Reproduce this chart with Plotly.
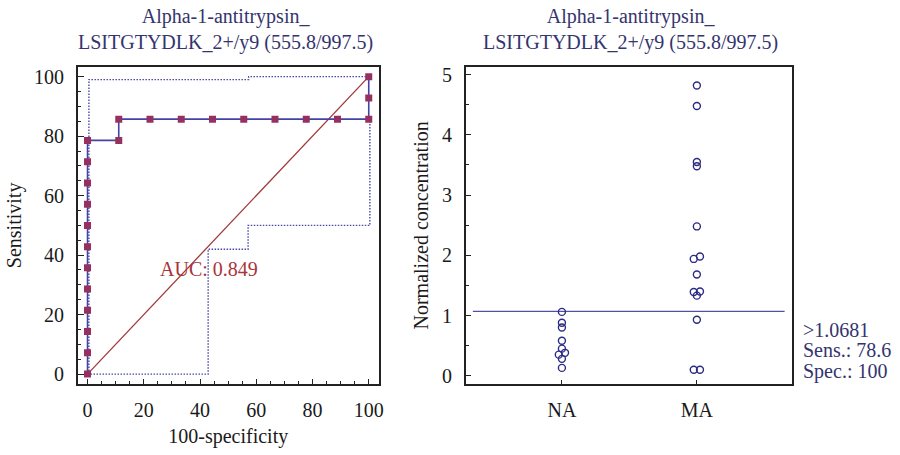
import plotly.graph_objects as go

# Normalized concentrations per group
na_values = [1.06, 0.88, 0.80, 0.58, 0.45, 0.38, 0.35, 0.28, 0.13]
ma_values = [4.82, 4.48, 3.55, 3.48, 2.48, 1.98, 1.94, 1.68, 1.40, 1.39, 1.33, 0.93, 0.10, 0.10]
group_labels = ["NA", "MA"]
cutoff = 1.0681
sens_at_cutoff = 78.6
spec_at_cutoff = 100
auc_value = 0.849

# Confidence band of the ROC curve (100-specificity, sensitivity)
upper_fpr = [0.5, 0.5, 57.3, 57.3, 100]
upper_tpr = [0, 99.0, 99.0, 100, 100]
lower_fpr = [0, 42.9, 42.9, 57.1, 57.1, 100.4, 100.4]
lower_tpr = [0, 0, 42.0, 42.0, 50.0, 50.0, 85.7]

title_text = "Alpha-1-antitrypsin_<br>LSITGTYDLK_2+/y9 (555.8/997.5)"


def staircase(neg, pos):
    """Step path through every sample: vertical for positives, horizontal for negatives."""
    samples = sorted([(v, 0) for v in neg] + [(v, 1) for v in pos], key=lambda s: (-s[0], -s[1]))
    x, y = [0.0], [0.0]
    fx, ty = 0.0, 0.0
    for v, is_pos in samples:
        if is_pos:
            ty += 100.0 / len(pos)
        else:
            fx += 100.0 / len(neg)
        x.append(fx)
        y.append(ty)
    return x, y


def spread(values, center, tol=0.05, step=0.046):
    """Spread near-equal values sideways so the circles do not overlap."""
    order = sorted(range(len(values)), key=lambda i: values[i])
    xs = [center] * len(values)
    groups, cur = [], [order[0]]
    for i in order[1:]:
        if values[i] - values[cur[-1]] <= tol:
            cur.append(i)
        else:
            groups.append(cur)
            cur = [i]
    groups.append(cur)
    for g in groups:
        n = len(g)
        for k, i in enumerate(g):
            xs[i] = center + (k - (n - 1) / 2) * step
    return xs


step_x, step_y = staircase(na_values, ma_values)

FONT = "Liberation Serif, Times New Roman, serif"
NAVY = "#34346e"
FS = 20

fig = go.Figure()

# ROC panel
band_line = dict(color="#4848a8", width=1.4, dash="1.5px,1.5px")
fig.add_trace(go.Scatter(x=upper_fpr, y=upper_tpr, mode="lines", line=band_line,
                         xaxis="x", yaxis="y", hoverinfo="skip"))
fig.add_trace(go.Scatter(x=lower_fpr, y=lower_tpr, mode="lines", line=band_line,
                         xaxis="x", yaxis="y", hoverinfo="skip"))
fig.add_trace(go.Scatter(x=[0, 100], y=[0, 100], mode="lines",
                         line=dict(color="#a23a3a", width=1.3),
                         xaxis="x", yaxis="y", hoverinfo="skip"))
fig.add_trace(go.Scatter(x=step_x, y=step_y, mode="lines+markers",
                         line=dict(color="#4343a6", width=1.6),
                         marker=dict(symbol="square", size=7, color="#96305f"),
                         xaxis="x", yaxis="y"))

# Dot plot panel
fig.add_trace(go.Scatter(x=[-0.66, 1.65], y=[cutoff, cutoff], mode="lines",
                         line=dict(color="#5050a8", width=1.4),
                         xaxis="x2", yaxis="y2", hoverinfo="skip"))
dot_marker = dict(symbol="circle-open", size=7, color="#2b2b85", line=dict(width=1.4))
fig.add_trace(go.Scatter(x=spread(na_values, 0), y=na_values, mode="markers",
                         marker=dot_marker, xaxis="x2", yaxis="y2"))
fig.add_trace(go.Scatter(x=spread(ma_values, 1), y=ma_values, mode="markers",
                         marker=dot_marker, xaxis="x2", yaxis="y2"))

W, H = 900, 455
axis_common = dict(showline=True, mirror=True, linecolor="#222", linewidth=1.6,
                   ticks="inside", tickcolor="#222", tickwidth=1.2,
                   showgrid=False, zeroline=False,
                   tickfont=dict(family=FONT, size=FS, color="#1a1a1a"))
title_font = dict(family=FONT, size=FS, color="#1a1a1a")

fig.update_layout(
    width=W, height=H, showlegend=False,
    margin=dict(l=0, r=0, t=0, b=0),
    paper_bgcolor="white", plot_bgcolor="white",
    font=dict(family=FONT, color="#1a1a1a"),
    xaxis=dict(domain=[78.3 / W, 380.7 / W], range=[-3.43, 103.5],
               tickvals=[0, 20, 40, 60, 80, 100], ticklen=5, ticklabelstandoff=7,
               minor=dict(ticks="inside", dtick=5, ticklen=3, tickcolor="#222"),
               title=dict(text="100-specificity", font=title_font, standoff=9),
               anchor="y", **axis_common),
    yaxis=dict(domain=[1 - 386 / H, 1 - 64.7 / H], range=[-3.3, 103.3],
               tickvals=[0, 20, 40, 60, 80, 100], ticklen=6, ticklabelstandoff=8,
               minor=dict(ticks="inside", dtick=5, ticklen=3, tickcolor="#222"),
               title=dict(text="Sensitivity", font=title_font, standoff=7),
               anchor="x", **axis_common),
    xaxis2=dict(domain=[468.3 / W, 796.7 / W], range=[-0.713, 1.707],
                tickvals=[0, 1], ticktext=group_labels, ticklen=4, ticklabelstandoff=7,
                anchor="y2", **axis_common),
    yaxis2=dict(domain=[1 - 386 / H, 1 - 64.7 / H], range=[-0.136, 5.13],
                tickvals=[0, 1, 2, 3, 4, 5], ticklen=6, ticklabelstandoff=8,
                minor=dict(ticks="inside", dtick=0.5, ticklen=4, tickcolor="#222"),
                title=dict(text="Normalized concentration", font=title_font, standoff=8),
                anchor="x2", **axis_common),
)

annotations = [
    dict(text=title_text, x=227 / W, y=1, xref="paper", yref="paper",
         xanchor="center", yanchor="top", showarrow=False,
         font=dict(family=FONT, size=FS, color=NAVY)),
    dict(text=title_text, x=634 / W, y=1, xref="paper", yref="paper",
         xanchor="center", yanchor="top", showarrow=False,
         font=dict(family=FONT, size=FS, color=NAVY)),
    dict(text=f"AUC: {auc_value}", x=43.2, y=35.2, xref="x", yref="y",
         showarrow=False, font=dict(family=FONT, size=FS, color="#a8343c")),
]
# Cut-off summary beside the dot plot, one line each
summary_lines = [f"&gt;{cutoff}", f"Sens.: {sens_at_cutoff}", f"Spec.: {spec_at_cutoff}"]
for k, line in enumerate(summary_lines):
    annotations.append(dict(text=line, x=805 / W, y=1 - (331 + 21 * k) / H,
                            xref="paper", yref="paper", xanchor="left", yanchor="middle",
                            showarrow=False, font=dict(family=FONT, size=FS, color=NAVY)))
fig.update_layout(annotations=annotations)

fig.write_html("out.html")
